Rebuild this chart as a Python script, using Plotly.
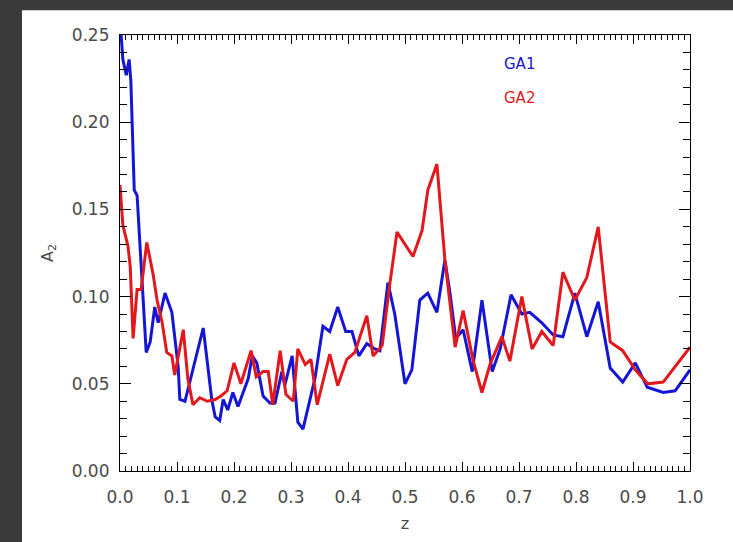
import plotly.graph_objects as go

# GA1 series: redshift z and amplitude A2
z_ga1 = [0.002, 0.005, 0.011, 0.016, 0.019, 0.025, 0.030, 0.037, 0.046, 0.053,
         0.061, 0.067, 0.079, 0.091, 0.102, 0.105, 0.114, 0.146, 0.161, 0.167,
         0.175, 0.181, 0.189, 0.198, 0.207, 0.225, 0.232, 0.240, 0.251, 0.263,
         0.272, 0.284, 0.289, 0.302, 0.312, 0.321, 0.342, 0.356, 0.368, 0.382,
         0.396, 0.407, 0.419, 0.433, 0.447, 0.456, 0.470, 0.482, 0.500, 0.512,
         0.526, 0.540, 0.556, 0.570, 0.579, 0.589, 0.602, 0.618, 0.635, 0.653,
         0.667, 0.686, 0.705, 0.719, 0.740, 0.760, 0.777, 0.798, 0.819, 0.839,
         0.860, 0.882, 0.904, 0.925, 0.953, 0.974, 1.000]
a2_ga1 = [0.250, 0.236, 0.227, 0.236, 0.224, 0.161, 0.158, 0.121, 0.068, 0.074,
          0.094, 0.085, 0.102, 0.091, 0.060, 0.041, 0.040, 0.082, 0.041, 0.031,
          0.029, 0.041, 0.035, 0.045, 0.037, 0.053, 0.066, 0.062, 0.043, 0.039,
          0.039, 0.057, 0.049, 0.066, 0.028, 0.024, 0.053, 0.083, 0.080, 0.094,
          0.080, 0.080, 0.066, 0.073, 0.070, 0.069, 0.108, 0.090, 0.050, 0.058,
          0.098, 0.102, 0.091, 0.121, 0.102, 0.076, 0.081, 0.057, 0.098, 0.057,
          0.070, 0.101, 0.090, 0.091, 0.085, 0.078, 0.077, 0.102, 0.077, 0.097,
          0.059, 0.051, 0.062, 0.048, 0.045, 0.046, 0.058]

# GA2 series
z_ga2 = [0.000, 0.005, 0.014, 0.018, 0.023, 0.030, 0.037, 0.047, 0.058, 0.065,
         0.074, 0.082, 0.091, 0.096, 0.111, 0.119, 0.128, 0.140, 0.153, 0.167,
         0.177, 0.188, 0.200, 0.212, 0.230, 0.239, 0.251, 0.260, 0.268, 0.281,
         0.291, 0.304, 0.312, 0.325, 0.335, 0.346, 0.368, 0.382, 0.398, 0.412,
         0.433, 0.444, 0.460, 0.472, 0.486, 0.514, 0.530, 0.540, 0.556, 0.570,
         0.588, 0.602, 0.619, 0.635, 0.649, 0.670, 0.684, 0.705, 0.723, 0.740,
         0.760, 0.777, 0.798, 0.819, 0.839, 0.860, 0.882, 0.904, 0.926, 0.953,
         1.000]
a2_ga2 = [0.164, 0.141, 0.129, 0.117, 0.076, 0.104, 0.104, 0.131, 0.113, 0.098,
          0.085, 0.068, 0.066, 0.055, 0.081, 0.053, 0.038, 0.042, 0.040, 0.041,
          0.043, 0.046, 0.062, 0.050, 0.069, 0.054, 0.057, 0.057, 0.038, 0.069,
          0.044, 0.040, 0.070, 0.061, 0.064, 0.038, 0.067, 0.049, 0.064, 0.068,
          0.089, 0.066, 0.072, 0.104, 0.137, 0.123, 0.138, 0.161, 0.176, 0.121,
          0.071, 0.092, 0.064, 0.045, 0.061, 0.077, 0.063, 0.100, 0.070, 0.080,
          0.072, 0.114, 0.098, 0.111, 0.140, 0.074, 0.069, 0.058, 0.050, 0.051,
          0.071]

# tick positions: labelled majors and unlabelled minors
x_ticks = [0.0, 0.1, 0.2, 0.3, 0.4, 0.5, 0.6, 0.7, 0.8, 0.9, 1.0]
y_ticks = [0.00, 0.05, 0.10, 0.15, 0.20, 0.25]
x_minor_ticks = [i / 100 for i in range(101) if i % 10]
y_minor_ticks = [i / 100 for i in range(26) if i % 5]
x_range = [0, 1]
y_range = [0, 0.25]

BLUE = "#1515d6"
RED = "#e3181c"
DARK = "#3a3a3a"
FONT = "DejaVu Sans"
TXT = "#4a4a4a"

W, H = 733, 542
L, R, T, B = 120, 43, 35, 67
pw, ph = W - L - R, H - T - B

fig = go.Figure()
fig.add_trace(go.Scatter(x=z_ga1, y=a2_ga1, mode="lines", name="GA1",
                         line=dict(color=BLUE, width=3)))
fig.add_trace(go.Scatter(x=z_ga2, y=a2_ga2, mode="lines", name="GA2",
                         line=dict(color=RED, width=3)))
# carrier for the tick-only axes that draw the minor ticks on all four sides
fig.add_trace(go.Scatter(x=[x_range[0]], y=[y_range[0]], mode="markers",
                         xaxis="x2", yaxis="y2", opacity=0, hoverinfo="skip",
                         showlegend=False))

axis_common = dict(
    showline=True, linecolor="black", linewidth=1.2, mirror="ticks",
    ticks="inside", tickcolor="black", tickwidth=1.2,
    showgrid=False, zeroline=False, tickmode="array",
    tickfont=dict(family=FONT, size=17, color=TXT),
)
minor_axis = dict(
    showline=False, mirror="ticks", ticks="inside", tickcolor="black",
    tickwidth=1.2, showgrid=False, zeroline=False, tickmode="array",
    showticklabels=False, fixedrange=True,
)

fig.update_layout(
    xaxis=dict(
        range=x_range, tickvals=x_ticks, ticktext=[f"{v:.1f}" for v in x_ticks],
        ticklen=9, ticklabelstandoff=10,
        title=dict(text="z", font=dict(family=FONT, size=16, color=TXT), standoff=12),
        **axis_common,
    ),
    yaxis=dict(
        range=y_range, tickvals=y_ticks, ticktext=[f"{v:.2f}" for v in y_ticks],
        ticklen=11, ticklabelstandoff=6,
        title=dict(text="A<sub>2</sub>", font=dict(family=FONT, size=16, color=TXT),
                   standoff=14),
        **axis_common,
    ),
    xaxis2=dict(range=x_range, tickvals=x_minor_ticks, ticklen=5,
                overlaying="x", anchor="y2", side="bottom", **minor_axis),
    yaxis2=dict(range=y_range, tickvals=y_minor_ticks, ticklen=7,
                overlaying="y", anchor="x2", side="left", **minor_axis),
)

# dark surround along the left and top edges
fig.add_shape(type="rect", xref="paper", yref="paper", layer="above",
              x0=-L / pw - 0.05, x1=(22 - L) / pw, y0=-0.3, y1=H / ph,
              fillcolor=DARK, line=dict(width=0))
fig.add_shape(type="rect", xref="paper", yref="paper", layer="above",
              x0=-L / pw - 0.05, x1=1.3, y0=(H - B - 10) / ph, y1=H / ph,
              fillcolor=DARK, line=dict(width=0))

# series labels inside the plot
fig.add_annotation(x=(502 - L) / pw, y=(H - B - 64) / ph, xref="paper", yref="paper",
                   text="GA1", showarrow=False, xanchor="left", yanchor="middle",
                   font=dict(family=FONT, size=15, color=BLUE))
fig.add_annotation(x=(502 - L) / pw, y=(H - B - 99) / ph, xref="paper", yref="paper",
                   text="GA2", showarrow=False, xanchor="left", yanchor="middle",
                   font=dict(family=FONT, size=15, color=RED))

fig.update_layout(
    width=W, height=H, showlegend=False,
    margin=dict(l=L, r=R, t=T, b=B),
    paper_bgcolor="white", plot_bgcolor="white",
)

fig.write_html("out.html")
